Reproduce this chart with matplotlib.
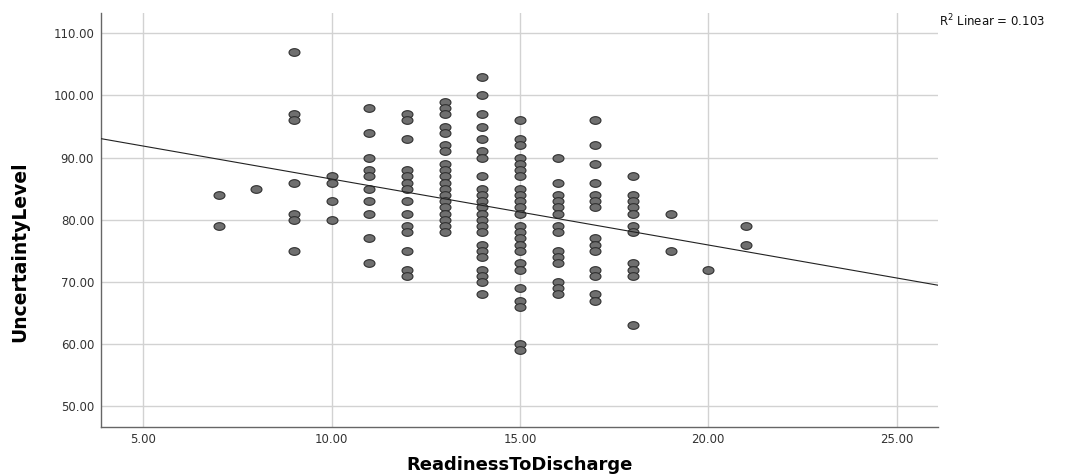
import numpy as np
import matplotlib
matplotlib.use("Agg")
import matplotlib.pyplot as plt
from matplotlib.path import Path

# ---- data ----
readiness_levels = [7, 8, 9, 10, 11, 12, 13, 14, 15, 16, 17, 18, 19, 20, 21]
u7 = [84, 79]
u8 = [85]
u9 = [107, 97, 96, 86, 81, 80, 75]
u10 = [87, 86, 83, 80]
u11 = [98, 94, 90, 88, 87, 85, 83, 81, 77, 73]
u12 = [97, 96, 93, 88, 87, 86, 85, 83, 81, 79, 78, 75, 72, 71]
u13 = [99, 98, 97, 95, 94, 92, 91, 89, 88, 87, 86, 85, 84, 83, 82, 81, 80, 79, 78]
u14 = [103, 100, 97, 95, 93, 91, 90, 87, 85, 84, 83, 82, 81, 80, 79, 78, 76, 75,
       74, 72, 71, 70, 68]
u15 = [96, 93, 92, 90, 89, 88, 87, 85, 84, 83, 82, 81, 79, 78, 77, 76, 75, 73, 72,
       69, 67, 66, 60, 59]
u16 = [90, 86, 84, 83, 82, 81, 79, 78, 75, 74, 73, 70, 69, 68]
u17 = [96, 92, 89, 86, 84, 83, 82, 77, 76, 75, 72, 71, 68, 67]
u18 = [87, 84, 83, 82, 81, 79, 78, 73, 72, 71, 63]
u19 = [81, 75]
u20 = [72]
u21 = [79, 76]
columns = [u7, u8, u9, u10, u11, u12, u13, u14, u15, u16, u17, u18, u19, u20, u21]

fit_intercept = 97.17
fit_slope = -1.061
r2_text = "R$^2$ Linear = 0.103"

x_ticks = [5, 10, 15, 20, 25]
y_ticks = [50, 60, 70, 80, 90, 100, 110]

xs = np.concatenate([[lvl] * len(c) for lvl, c in zip(readiness_levels, columns)])
ys = np.concatenate(columns)

# ---- figure ----
fig = plt.figure(figsize=(10.65, 4.76), dpi=100)
ax = fig.add_axes([101 / 1065, 49 / 476, 837 / 1065, 414 / 476])
xlim = (3.877, 26.10)
ylim = (46.67, 113.27)
ax.set_xlim(*xlim)
ax.set_ylim(*ylim)

ax.set_xticks(x_ticks)
ax.set_yticks(y_ticks)
ax.set_xticklabels([f"{v:.2f}" for v in x_ticks])
ax.set_yticklabels([f"{v:.2f}" for v in y_ticks])
ax.tick_params(axis="both", length=0, labelsize=8.5, colors="#333333")
ax.tick_params(axis="y", pad=5)
ax.tick_params(axis="x", pad=4.5)

ax.grid(True, color="#d2d2d2", linewidth=1.0)
ax.set_axisbelow(True)
for s in ["top", "right"]:
    ax.spines[s].set_visible(False)
for s in ["left", "bottom"]:
    ax.spines[s].set_color("#666666")
    ax.spines[s].set_linewidth(1.0)

# elliptical marker
t = np.linspace(0, 2 * np.pi, 40)
ell = Path(np.column_stack([np.cos(t), 0.7 * np.sin(t)]), closed=True)
ax.scatter(xs, ys, marker=ell, s=62, facecolor="#6f6f6f", edgecolor="#2f2f2f",
           linewidths=0.8, zorder=3)

lx = np.array(xlim)
ax.plot(lx, fit_intercept + fit_slope * lx, color="#222222", linewidth=0.8, zorder=4)

ax.set_xlabel("ReadinessToDischarge", fontsize=13, fontweight="bold", va="center")
ax.xaxis.set_label_coords(0.5, (427 - 465) / 414)
ax.set_ylabel("UncertaintyLevel", fontsize=13.5, fontweight="bold", va="center")
ax.yaxis.set_label_coords((20 - 101) / 837, (427 - 252) / 414)

fig.text(939 / 1065, 1 - 21 / 476, r2_text, fontsize=8.5, va="center", ha="left",
         color="#111111")

fig.savefig("out.png", dpi=100)
